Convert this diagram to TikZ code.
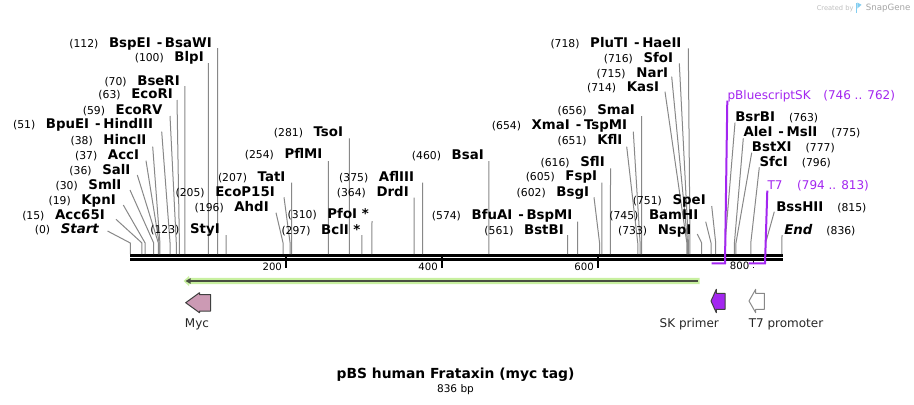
\documentclass[tikz,border=0pt]{standalone}
\usepackage{fontspec}
\setmainfont{DejaVu Sans}
\definecolor{connGray}{RGB}{136,136,136}
\definecolor{sgpurple}{RGB}{163,38,240}
\definecolor{mycpink}{RGB}{204,154,180}
\definecolor{orfgreen}{RGB}{200,240,160}
\definecolor{orfdark}{RGB}{72,78,64}
\definecolor{featline}{RGB}{64,64,64}
\definecolor{sgblue}{RGB}{130,205,240}
\newcommand\nmf{\fontsize{8.1pt}{10pt}\selectfont\mdseries}
\newcommand\bnf{\fontsize{10pt}{11pt}\selectfont\bfseries}
\newcommand\dsh{\hspace{4.5pt}-\hspace{2pt}}
\newcommand\siteL[6]{%
  \node[labL] (n#1) at (#2,#3+4.5) {{\nmf(#1)}\hspace{8pt}{\bnf #6}};
  \coordinate (t#1) at (#4,#5);
  \coordinate (b#1) at ({130.3+0.7795*#1},243);
  \coordinate (s#1) at ({130.3+0.7795*#1},254);
  \draw[conn] (t#1) -- (b#1) -- (s#1);
}
\newcommand\siteR[6]{%
  \node[labR] (n#1) at (#2,#3+4.5) {{\bnf #6}\hspace{10.5pt}{\nmf(#1)}};
  \coordinate (t#1) at (#4,#5);
  \coordinate (b#1) at ({130.3+0.7795*#1},243);
  \coordinate (s#1) at ({130.3+0.7795*#1},254);
  \draw[conn] (t#1) -- (b#1) -- (s#1);
}
\begin{document}
\begin{tikzpicture}[x=0.75pt,y=-0.75pt,
  conn/.style={draw=connGray, line width=0.75pt},
  labL/.style={anchor=base east, inner sep=0pt, text=black},
  labR/.style={anchor=base west, inner sep=0pt, text=black},
  ticklab/.style={anchor=base east, inner sep=0pt, font=\fontsize{7.6pt}{9pt}\selectfont},
  featlab/.style={anchor=base, inner sep=0pt, font=\fontsize{9pt}{11pt}\selectfont, text=black!85},
  plab/.style={anchor=base west, inner sep=0pt, text=sgpurple, font=\fontsize{9pt}{11pt}\selectfont},
  pline/.style={draw=sgpurple, line width=1.5pt}]
\fill[white] (0,0) rectangle (914,404);
\useasboundingbox (0,0) rectangle (914,404);

% watermark
\node[anchor=base west, inner sep=0pt, text=black!25, font=\fontsize{5pt}{6pt}\selectfont] (wm1) at (816.5,10) {Created by};
\fill[sgblue] (855.5,2.5) rectangle (857.3,13);
\fill[sgblue] (857.3,2.5) -- (861.5,4.8) -- (857.3,8.5) -- cycle;
\node[anchor=base west, inner sep=0pt, text=black!35, font=\fontsize{6.5pt}{8pt}\selectfont] (wm2) at (865.5,10.5) {SnapGene};

% sequence line
\draw[line width=2pt] (130,255.3) -- (783,255.3);
\draw[line width=2pt] (130,259.3) -- (783,259.3);

% ticks
\foreach \v/\x in {200/286.2,400/442.1,600/598.0} {
  \draw[line width=1.5pt] (\x,256) -- (\x,268);
  \node[ticklab] at (\x-4,270.8) {\v};
}
\fill (753.2,261) rectangle (754.4,262.7);
\fill (753.2,266.6) rectangle (754.4,268);
\node[ticklab] at (749.5,269.8) {800};

% sites labelled to the left of their connectors
\siteL{0}{99}{229.3}{107.5}{231}{\itshape Start}
\siteL{15}{105}{215}{116}{219.3}{Acc65I}
\siteL{19}{116}{200}{123.3}{205}{KpnI}
\siteL{30}{121.7}{185}{130}{190}{SmlI}
\siteL{36}{130.7}{170}{137.3}{175}{SalI}
\siteL{37}{139.3}{155}{146}{160.7}{AccI}
\siteL{38}{146.7}{139.5}{152.7}{146.7}{HincII}
\siteL{51}{153.3}{124.3}{161.7}{131.7}{BpuEI\dsh HindIII}
\siteL{59}{162.7}{110}{170}{116}{EcoRV}
\siteL{63}{173}{94}{177}{100}{EcoRI}
\siteL{70}{180}{80.7}{184.9}{86}{BseRI}
\siteL{100}{204}{57}{208.25}{63}{BlpI}
\siteL{112}{212}{43}{217.6}{48}{BspEI\dsh BsaWI}
\siteL{123}{220}{229.3}{226.2}{235}{StyI}
\siteL{196}{269}{206.7}{276}{212.7}{AhdI}
\siteL{205}{275}{191.7}{284}{197.3}{EcoP15I}
\siteL{207}{285.7}{176.7}{291.7}{182.7}{TatI}
\siteL{254}{322.7}{154.3}{328.3}{161}{PflMI}
\siteL{281}{343.3}{131.7}{349.3}{138.3}{TsoI}
\siteL{297}{360.7}{230}{361.8}{235}{BclI *}
\siteL{310}{369}{214.3}{372}{221}{PfoI *}
\siteL{364}{409}{191.7}{414}{197.7}{DrdI}
\siteL{375}{414.3}{176.7}{422.6}{182.7}{AflIII}
\siteL{460}{484}{155}{488.9}{161}{BsaI}
\siteL{561}{564}{230}{567.6}{235}{BstBI}
\siteL{574}{572.7}{215}{577.7}{221.7}{BfuAI\dsh BspMI}
\siteL{602}{589.3}{191.7}{594}{197.3}{BsgI}
\siteL{605}{597.3}{176}{601.9}{182.7}{FspI}
\siteL{616}{605}{161.7}{610.5}{168.3}{SflI}
\siteL{651}{622.7}{140}{626.7}{146.7}{KflI}
\siteL{654}{627.3}{125}{633.3}{131.7}{XmaI\dsh TspMI}
\siteL{656}{635}{110}{641.7}{116}{SmaI}
\siteL{714}{659.3}{86.7}{665}{91.7}{KasI}
\siteL{715}{668.3}{72.7}{671.7}{76.7}{NarI}
\siteL{716}{673.3}{58.3}{679.3}{63.3}{SfoI}
\siteL{718}{681.7}{43.3}{688.3}{48.3}{PluTI\dsh HaeII}
\siteL{733}{691.7}{230}{697.3}{234}{NspI}
\siteL{745}{698.5}{215}{705.7}{221.7}{BamHI}
\siteL{751}{706}{200}{711.7}{206}{SpeI}

% sites labelled to the right of their connectors
\siteR{763}{735}{116.7}{735}{122.7}{BsrBI}
\siteR{775}{743.3}{131.7}{743.3}{138.3}{AleI\dsh MslI}
\siteR{777}{751.7}{146.7}{751.7}{152.7}{BstXI}
\siteR{796}{759.3}{161.7}{759.3}{167.3}{SfcI}
\siteR{815}{776}{206.7}{774.3}{211.7}{BssHII}
\siteR{836}{784}{230}{782}{235}{\itshape End}

% primer / promoter brackets
\node[plab] (pbs) at (727.3,99.4) {pBluescriptSK\hspace{9.5pt}(746 .. 762)};
\coordinate (pbsTop) at (727.3,100.7);
\coordinate (pbsR) at (725,263.3);
\coordinate (pbsL) at (711.5,263.3);
\draw[pline] (pbsTop) -- (pbsR) -- (pbsL);
\node[plab] (t7) at (767.3,189.4) {T7\hspace{11pt}(794 .. 813)};
\coordinate (t7Top) at (767.3,190.7);
\coordinate (t7R) at (765,263.3);
\coordinate (t7L) at (748.5,263.3);
\draw[pline] (t7Top) -- (t7R) -- (t7L);

% ORF arrow
\fill[orfgreen] (183.5,281) -- (189,276) -- (189,277.8) -- (699.5,277.8) -- (699.5,284.2) -- (189,284.2) -- (189,286) -- cycle;
\draw[orfdark, line width=1.3pt] (697.7,281) -- (189,281);
\fill[orfdark] (185.5,281) -- (190.5,278.2) -- (190.5,283.8) -- cycle;

% features
\draw[featline, line width=0.75pt, fill=mycpink, line join=round]
  (185.7,302.7) -- (199.5,292.7) -- (199.5,294.5) -- (210.7,294.5) -- (210.7,311) -- (199.5,311) -- (199.5,312.7) -- cycle;
\node[featlab] (myc) at (197,327) {Myc};
\draw[featline, line width=0.75pt, fill=sgpurple, line join=round]
  (711,301) -- (716.3,289.3) -- (716.3,293.3) -- (725,293.3) -- (725,309.3) -- (716.3,309.3) -- (716.3,312.7) -- cycle;
\node[featlab] (skp) at (689.3,327) {SK primer};
\draw[connGray, line width=0.75pt, fill=white, line join=round]
  (749,301) -- (755.7,289.3) -- (755.7,293.3) -- (764.3,293.3) -- (764.3,309.3) -- (755.7,309.3) -- (755.7,312.7) -- cycle;
\node[featlab] (t7p) at (786,327) {T7 promoter};

% title
\node[anchor=base, inner sep=0pt, font=\fontsize{10.4pt}{12pt}\selectfont\bfseries] (title) at (455.5,378.3) {pBS human Frataxin (myc tag)};
\node[anchor=base, inner sep=0pt, font=\fontsize{7.9pt}{9pt}\selectfont] (len) at (455.5,392.7) {836 bp};
\end{tikzpicture}
\end{document}
